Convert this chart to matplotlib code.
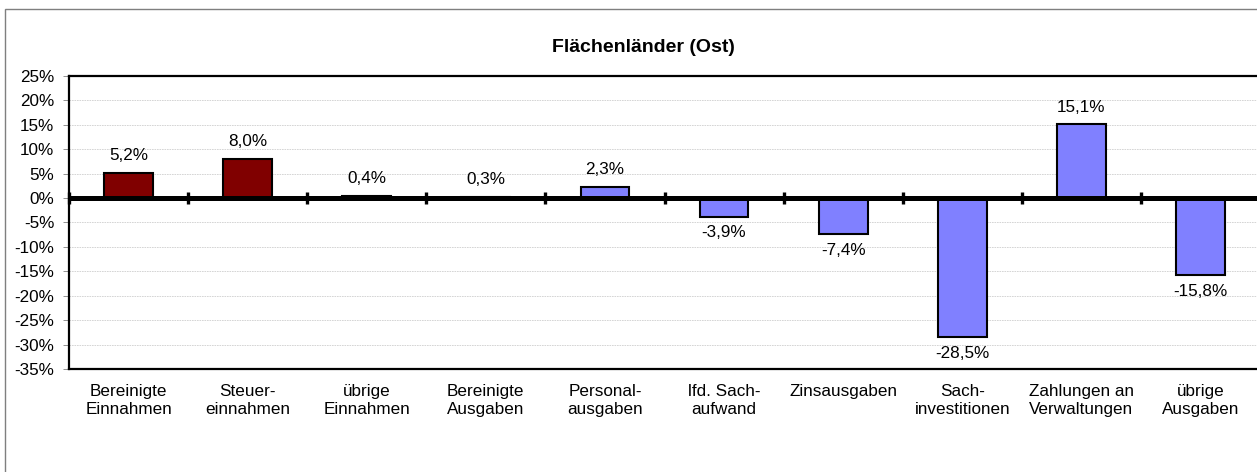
import matplotlib
matplotlib.use("Agg")
import matplotlib.pyplot as plt
import numpy as np
from matplotlib.patches import Rectangle
from matplotlib.ticker import FuncFormatter

categories = ["Bereinigte\nEinnahmen", "Steuer-\neinnahmen", "übrige\nEinnahmen",
              "Bereinigte\nAusgaben", "Personal-\nausgaben", "lfd. Sach-\naufwand",
              "Zinsausgaben", "Sach-\ninvestitionen", "Zahlungen an\nVerwaltungen",
              "übrige\nAusgaben"]
values = [5.2, 8.0, 0.4, 0.3, 2.3, -3.9, -7.4, -28.5, 15.1, -15.8]
bar_colors = ["#800000", "#800000", "#800000", "#8080FF", "#8080FF", "#8080FF",
              "#8080FF", "#8080FF", "#8080FF", "#8080FF"]
yticks = list(range(-35, 30, 5))
title = "Flächenländer (Ost)"

plt.rcParams['font.family'] = ['Liberation Sans', 'DejaVu Sans']
FS = 12.3

W, H = 1257, 472
fig = plt.figure(figsize=(W / 100, H / 100), dpi=100)

# outer chart frame (cropped at right and bottom)
fig.patches.append(Rectangle((5 / W, -0.1), 1.2, 1 - 9 / H + 0.1, transform=fig.transFigure,
                             fill=False, edgecolor="#7f7f7f", lw=1.0, zorder=0))

left, right, top, bottom = 69, 1260, 76, 369
ax = fig.add_axes([left / W, 1 - bottom / H, (right - left) / W, (bottom - top) / H])
ax.set_facecolor("none")

x = np.arange(len(categories))
ax.bar(x, values, width=0.41, color=bar_colors, edgecolor="black", linewidth=1.5, zorder=3)

ax.set_xlim(-0.5, len(categories) - 0.5)
ax.set_ylim(min(yticks), max(yticks))
ax.set_yticks(yticks)
ax.yaxis.set_major_formatter(FuncFormatter(lambda v, p: f"{int(v)}%"))
ax.grid(axis="y", color="#cfcfcf", lw=0.6, linestyle=(0, (2, 1)), zorder=0)
ax.set_axisbelow(True)

ax.set_xticks(x)
ax.set_xticklabels(categories, fontsize=FS, linespacing=1.32)
ax.tick_params(axis="x", length=0, pad=10.5)
ax.tick_params(axis="y", labelsize=FS, length=4.5, width=0.6, color="#808080", pad=6)

for s in ["left", "top", "bottom"]:
    ax.spines[s].set_linewidth(1.6)
    ax.spines[s].set_color("black")
ax.spines["right"].set_visible(False)

# thick zero line with category boundary marks
ax.axhline(0, color="black", lw=3.6, zorder=4)
bounds = np.arange(len(categories)) - 0.5
ax.plot(bounds, np.zeros_like(bounds), linestyle="none", marker="|", markersize=8,
        markeredgewidth=2.4, color="black", zorder=5, clip_on=False)

for xi, v in zip(x, values):
    lab = f"{v:.1f}%".replace(".", ",")
    if v >= 0:
        ax.annotate(lab, (xi, v), xytext=(0, 7), textcoords="offset points",
                    ha="center", va="bottom", fontsize=FS, zorder=6)
    else:
        ax.annotate(lab, (xi, v), xytext=(0, -6), textcoords="offset points",
                    ha="center", va="top", fontsize=FS, zorder=6)

fig.text(643 / W, 1 - 47 / H, title, ha="center", va="center", fontsize=14, fontweight="bold")

fig.savefig("out.png", dpi=100)
